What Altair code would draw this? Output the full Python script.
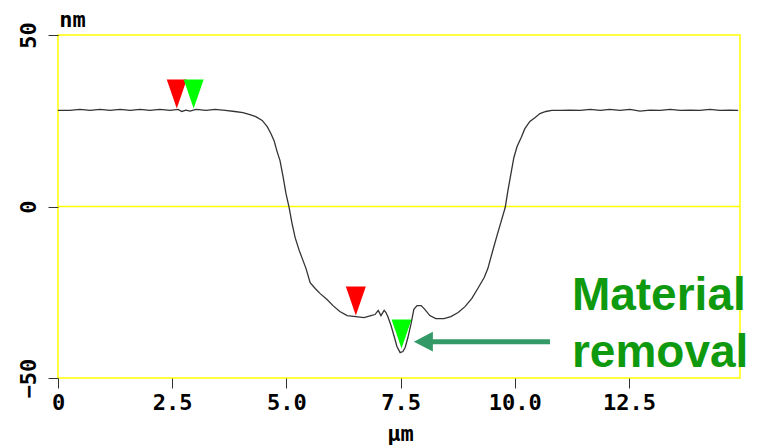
import altair as alt
import pandas as pd

# Surface profile across the trench (position in µm, height in nm)
pos_um = [
    0.00, 0.26, 0.48, 0.70, 0.92, 1.14, 1.36, 1.58, 1.80, 2.01, 2.23, 2.45,
    2.63, 2.71, 2.80, 2.89, 3.02, 3.24, 3.44, 3.66, 3.87, 4.05, 4.20, 4.33,
    4.47, 4.58, 4.66, 4.73, 4.79, 4.86, 4.93, 4.99, 5.06, 5.12, 5.19, 5.28,
    5.34, 5.43, 5.52, 5.63, 5.74, 5.89, 6.02, 6.17, 6.33, 6.52, 6.70, 6.85,
    6.94, 7.01, 7.07, 7.14, 7.18, 7.22, 7.29, 7.36, 7.42, 7.49, 7.55, 7.60,
    7.66, 7.73, 7.79, 7.86, 7.95, 8.03, 8.14, 8.27, 8.45, 8.60, 8.76, 8.91,
    9.06, 9.19, 9.33, 9.41, 9.50, 9.61, 9.70, 9.79, 9.85, 9.92, 9.98, 10.05,
    10.14, 10.22, 10.33, 10.44, 10.55, 10.68, 10.81, 10.99, 11.21, 11.43,
    11.65, 11.87, 12.08, 12.30, 12.52, 12.74, 12.96, 13.18, 13.40, 13.62,
    13.84, 14.05, 14.27, 14.49, 14.71, 14.89,
]
height_nm = [
    28.0, 28.0, 28.3, 28.0, 28.3, 28.0, 28.3, 28.0, 28.3, 28.0, 28.3, 28.0,
    28.3, 27.7, 28.1, 27.8, 28.3, 28.0, 28.3, 28.0, 27.7, 27.4, 26.8, 26.2,
    25.1, 23.3, 21.3, 19.2, 16.3, 13.4, 8.5, 3.8, -0.3, -4.7, -9.0, -12.8,
    -14.9, -18.1, -22.2, -23.9, -25.4, -27.1, -28.9, -30.6, -31.8, -32.1,
    -32.4, -31.8, -31.5, -30.3, -31.8, -30.3, -30.9, -32.1, -34.7, -37.9,
    -40.8, -42.6, -42.3, -41.1, -38.2, -34.1, -30.0, -28.9, -28.9, -30.0,
    -31.8, -32.7, -32.7, -32.1, -30.9, -29.2, -26.8, -23.9, -20.7, -18.1,
    -13.7, -8.5, -4.4, -0.3, 4.7, 9.9, 14.3, 17.5, 20.1, 22.7, 24.8, 25.9,
    27.1, 27.7, 28.0, 28.0, 28.1, 28.0, 28.3, 28.0, 28.3, 28.0, 28.3, 27.8,
    28.1, 28.0, 28.3, 28.0, 28.1, 28.0, 28.3, 28.0, 28.1, 28.0,
]

# Cursor markers (pairs of red / green)
cursor_x = [2.60, 2.97, 6.52, 7.52]
cursor_y = [28.6, 28.6, -31.8, -41.4]
cursor_color = ["#ff0000", "#00ff00", "#ff0000", "#00ff00"]

# Annotation arrow and text
arrow_tip = (7.79, -39.4)
arrow_tail_x = 10.77
note_x = 11.25
note_lines = ["Material", "removal"]
note_y = [-30.3, -46.9]

x_ticks = [0, 2.5, 5.0, 7.5, 10.0, 12.5]
y_ticks = [-50, 0, 50]
X_MAX = 14.93

profile = pd.DataFrame({"x": pos_um, "y": height_nm})
cursors = pd.DataFrame({"x": cursor_x, "y": cursor_y, "c": cursor_color})
shaft = pd.DataFrame({"x": [arrow_tip[0] + 0.35], "x2": [arrow_tail_x], "y": [arrow_tip[1]]})
head = pd.DataFrame({"x": [arrow_tip[0]], "y": [arrow_tip[1]]})
notes = pd.DataFrame({"x": [note_x] * 2, "y": note_y, "t": note_lines})

MONO = "DejaVu Sans Mono"

xs = alt.Scale(domain=[0, X_MAX], nice=False, zero=False)
ys = alt.Scale(domain=[-50, 50], nice=False)

x_axis = alt.Axis(
    values=x_ticks,
    labelExpr="datum.value == 0 ? '0' : format(datum.value, '.1f')",
    grid=False, domain=False,
    tickSize=10, tickColor="#333333", tickWidth=1,
    labelFont=MONO, labelFontWeight="bold", labelFontSize=22, labelColor="#000000",
    labelPadding=4, labelFlush=False,
    title="µm", titleFont=MONO, titleFontWeight="bold", titleFontSize=22,
    titleColor="#000000", titleX=342, titleY=62, titleBaseline="alphabetic",
)
y_axis = alt.Axis(
    values=y_ticks,
    grid=False, domain=False,
    tickSize=10, tickColor="#333333", tickWidth=1,
    labelFont=MONO, labelFontWeight="bold", labelFontSize=22, labelColor="#000000",
    labelAngle=-90, labelAlign="center", labelBaseline="bottom", labelPadding=8,
    labelFlush=False,
    title="nm", titleFont=MONO, titleFontWeight="bold", titleFontSize=22,
    titleColor="#000000", titleAngle=0, titleX=14, titleY=-16,
    titleAlign="center", titleBaseline="middle",
)

zero_line = alt.Chart(pd.DataFrame({"y": [0]})).mark_rule(
    color="#ffff00", strokeWidth=1.5
).encode(y=alt.Y("y:Q", scale=ys, axis=y_axis))

line = alt.Chart(profile).mark_line(color="#333333", strokeWidth=1.3).encode(
    x=alt.X("x:Q", scale=xs, axis=x_axis),
    y=alt.Y("y:Q", scale=ys),
)

markers = alt.Chart(cursors).mark_point(
    shape="M -0.69 -2 L 0.69 -2 L 0 0 Z", size=841, filled=True, opacity=1,
    strokeWidth=0,
).encode(
    x=alt.X("x:Q", scale=xs),
    y=alt.Y("y:Q", scale=ys),
    color=alt.Color("c:N", scale=None),
)

arrow_shaft = alt.Chart(shaft).mark_rule(color="#339966", strokeWidth=5).encode(
    x=alt.X("x:Q", scale=xs), x2="x2:Q", y=alt.Y("y:Q", scale=ys)
)
arrow_head = alt.Chart(head).mark_point(
    shape="M 0 0 L 2 -1.05 L 2 1.05 Z", size=361, filled=True, opacity=1,
    color="#339966", strokeWidth=0,
).encode(x=alt.X("x:Q", scale=xs), y=alt.Y("y:Q", scale=ys))

note = alt.Chart(notes).mark_text(
    font="Liberation Sans", fontWeight="bold", fontSize=46, color="#0f990f",
    align="left", baseline="alphabetic",
).encode(x=alt.X("x:Q", scale=xs), y=alt.Y("y:Q", scale=ys), text="t:N")

chart = alt.layer(zero_line, line, markers, arrow_shaft, arrow_head, note).properties(
    width=682, height=343,
    autosize=alt.AutoSizeParams(type="none"),
    padding={"left": 58, "top": 35, "right": 19, "bottom": 69},
    background="#ffffff",
).configure_view(stroke="#ffff00", strokeWidth=1.5)

chart.save("out.html", embed_options={"renderer": "svg", "actions": False})
